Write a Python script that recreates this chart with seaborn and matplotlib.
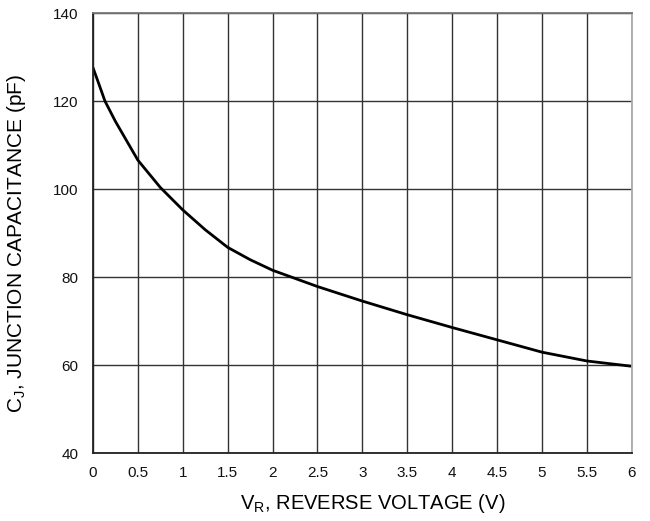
import matplotlib
matplotlib.use("Agg")
import matplotlib.pyplot as plt
import seaborn as sns
import pandas as pd

voltage = [0.0, 0.05, 0.134, 0.25, 0.5, 0.75, 1.0, 1.25, 1.5, 1.75, 2.0, 2.5, 3.0, 3.5, 4.0, 4.5, 5.0, 5.5, 6.0]
capacitance = [127.6, 124.8, 120.0, 115.4, 106.6, 100.4, 95.3, 90.8, 86.8, 84.0, 81.6, 77.9, 74.6, 71.5, 68.6, 65.8, 63.0, 61.0, 59.8]
x_ticks = [0, 0.5, 1, 1.5, 2, 2.5, 3, 3.5, 4, 4.5, 5, 5.5, 6]
x_tick_labels = ["0", "0.5", "1", "1.5", "2", "2.5", "3", "3.5", "4", "4.5", "5", "5.5", "6"]
y_ticks = [40, 60, 80, 100, 120, 140]

sns.set_theme(style="white")
plt.rcParams['font.family'] = ['Liberation Sans', 'DejaVu Sans']
plt.rcParams['mathtext.default'] = 'regular'

df = pd.DataFrame({"V": voltage, "C": capacitance})

fig = plt.figure(figsize=(6.5, 5.21), dpi=100)
ax = fig.add_axes([0.143, 0.1296, 0.829, 0.8454])

ax.set_xlim(0, 6)
ax.set_ylim(40, 140)
ax.set_xticks(x_ticks)
ax.set_xticklabels(x_tick_labels, fontsize=11)
ax.set_yticks(y_ticks)
ax.set_yticklabels([str(v) for v in y_ticks], fontsize=11)
ax.grid(True, color="#333333", linewidth=1.0)
ax.set_axisbelow(True)

sns.lineplot(data=df, x="V", y="C", ax=ax, color="black", linewidth=2.0)

for side in ["left", "bottom"]:
    ax.spines[side].set_color("#222222")
    ax.spines[side].set_linewidth(1.3)
ax.spines["top"].set_color("#777777")
ax.spines["top"].set_linewidth(1.3)
ax.spines["right"].set_color("#aaaaaa")
ax.spines["right"].set_linewidth(1.3)

ax.tick_params(axis="both", length=0, colors="#111111")
ax.tick_params(axis="y", pad=10.5)
ax.tick_params(axis="x", pad=9)

ax.set_xlabel("V$_R$, REVERSE VOLTAGE (V)", fontsize=14.5, color="black")
ax.set_ylabel("C$_J$, JUNCTION CAPACITANCE (pF)", fontsize=15, color="black")
ax.xaxis.set_label_coords(0.5186, -0.087)
ax.yaxis.set_label_coords(-0.12, 0.478)

fig.savefig("out.png", dpi=100, facecolor="white")
